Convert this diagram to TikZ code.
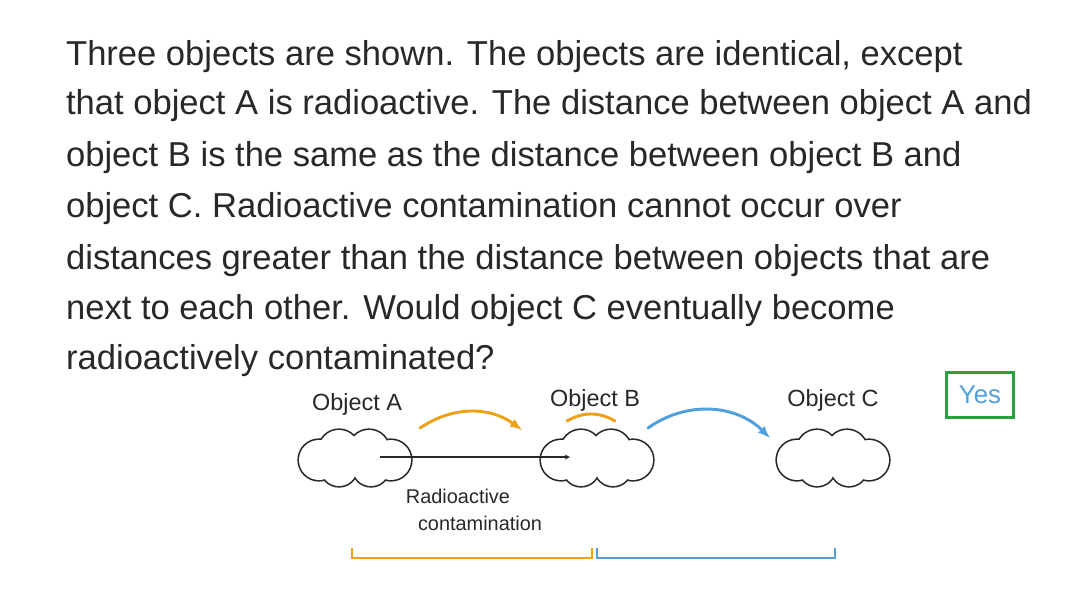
\documentclass[tikz,border=0pt]{standalone}
\usepackage{fontspec}
\setmainfont{Liberation Sans}
\definecolor{RadOrange}{RGB}{240, 160, 20}
\definecolor{RadBlue}{RGB}{80, 160, 220}
\definecolor{RadGreen}{RGB}{40, 160, 60}
\definecolor{RadText}{RGB}{40, 40, 40}
\newcommand{\puffs}[1]{%
    \foreach \dx/\dy/\r in {-36/2/20, -16/-8/20, 14/-8/20, 36/2/20, -16/10/18, 16/10/18}
        {(#1) ++(\dx,\dy) circle[radius=\r]}}

\begin{document}
\begin{tikzpicture}[x=0.03cm, y=-0.03cm,
    line/.style={text=RadText, anchor=west, font=\fontsize{29.5}{34}\selectfont},
    tag/.style={text=RadText, font=\fontsize{20}{24}\selectfont},
    small/.style={text=RadText, font=\fontsize{17}{20}\selectfont}]
    % Frame
    \useasboundingbox (0,0) rectangle (1088,612);
    \fill[white] (0,0) rectangle (1088,612);

    % Question text
    \node[line] (l1) at (62,57) {Three objects are shown. The objects are identical, except};
    \node[line] (l2) at (62,106) {that object A is radioactive. The distance between object A and};
    \node[line] (l3) at (62,158) {object B is the same as the distance between object B and};
    \node[line] (l4) at (62,209) {object C. Radioactive contamination cannot occur over};
    \node[line] (l5) at (62,261) {distances greater than the distance between objects that are};
    \node[line] (l6) at (62,311) {next to each other. Would object C eventually become};
    \node[line] (l7) at (62,361) {radioactively contaminated?};

    % Objects
    \coordinate (objA) at (355,458);
    \coordinate (objB) at (597,458);
    \coordinate (objC) at (833,458);
    \foreach \o in {objA, objB, objC} {
        \draw[RadText, line width=2.8pt] \puffs{\o};
        \fill[white] \puffs{\o};
    }
    \node[tag] (labA) at (357,404) {Object A};
    \node[tag] (labB) at (595,400) {Object B};
    \node[tag] (labC) at (833,400) {Object C};

    % Arrows
    \coordinate (oa1) at (420,428);
    \coordinate (oa2) at (522,430);
    \coordinate (ba1) at (648,428);
    \coordinate (ba2) at (770,438);
    \draw[RadOrange, line width=2.5pt, line cap=round, -latex] (oa1) to[bend left=35] (oa2);
    \draw[RadBlue, line width=2.5pt, line cap=round, -latex] (ba1) to[bend left=40] (ba2);
    \draw[RadOrange, line width=2.5pt, line cap=round] (567,421) to[bend left=30] (615,421);
    \coordinate (ka1) at (380,457);
    \coordinate (ka2) at (570,457);
    \draw[RadText, line width=1pt, -stealth] (ka1) -- (ka2);
    \node[small] (rad1) at (458,496) {Radioactive};
    \node[small] (rad2) at (480,523) {contamination};

    % Distance brackets
    \draw[RadOrange, line width=2.5pt] (352,548) -- (352,558) -- (592,558) -- (592,548);
    \draw[RadBlue, line width=2.5pt] (597,548) -- (597,558) -- (835,558) -- (835,548);

    % Answer
    \node[draw=RadGreen, line width=2.5pt, text=RadBlue, minimum width=2cm, minimum height=1.35cm,
        font=\fontsize{22}{26}\selectfont] (ans) at (980,395) {Yes};
\end{tikzpicture}
\end{document}
